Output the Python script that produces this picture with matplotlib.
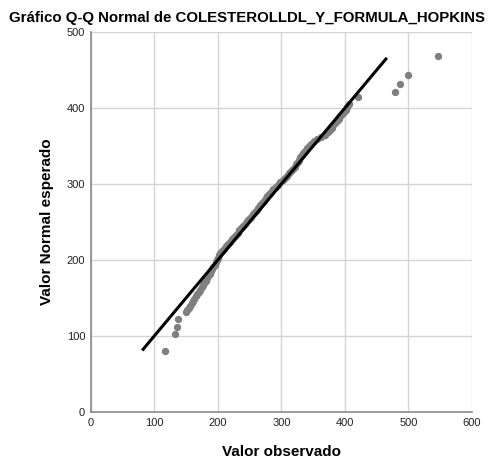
import matplotlib
matplotlib.use("Agg")
import matplotlib.pyplot as plt

plt.rcParams['font.family'] = ['Liberation Sans', 'DejaVu Sans']

# observed values (sorted) and their expected normal values
observado = [117, 133, 136, 138,
             150, 152, 155, 157, 159, 161, 163, 166, 168, 170, 172, 175, 177, 179,
             181, 183, 185, 187, 189, 191, 193, 195, 197, 199, 200, 202, 204, 207,
             210, 213, 216, 219, 222, 225, 228, 231, 234, 237, 240, 243, 246, 249,
             252, 255, 258, 261, 264, 267, 270, 273, 276, 278, 281, 284, 287, 291,
             294, 298, 302, 306, 309, 312, 315, 318, 321, 323, 326, 328, 330, 332,
             334, 337, 340, 343, 347, 351, 356, 362, 368, 373, 377, 380, 382, 384,
             387, 390, 393, 396, 399, 402, 404, 407,
             421, 479, 486, 500, 547]
esperado = [80, 103, 112, 123,
            131, 134, 137, 140, 143, 146, 149, 152, 155, 158, 161, 164, 167, 170,
            173, 176, 179, 182, 185, 188, 191, 194, 197, 200, 203, 206, 209, 212,
            215, 218, 221, 224, 227, 230, 233, 236, 239, 242, 245, 248, 251, 254,
            257, 260, 263, 266, 269, 272, 275, 278, 281, 284, 287, 290, 293, 296,
            299, 302, 305, 308, 311, 314, 317, 320, 323, 326, 329, 332, 335, 338,
            341, 344, 347, 350, 353, 356, 359, 362, 365, 368, 371, 374, 377, 380,
            383, 386, 389, 392, 395, 398, 401, 405,
            414, 421, 431, 444, 468]

# reference line y = x
linea = [81, 466]

xticks = [0, 100, 200, 300, 400, 500, 600]
yticks = [0, 100, 200, 300, 400, 500]

fig = plt.figure(figsize=(4.92, 4.59), dpi=100)
ax = fig.add_axes([90.7 / 492, 1 - 412 / 459, (472 - 90.7) / 492, (412 - 32) / 459])

ax.scatter(observado, esperado, s=28, color='#7f7f7f', linewidths=0, zorder=3)
ax.plot(linea, linea, color='black', lw=2.2, zorder=4, solid_capstyle='butt')

ax.set_xlim(0, 600)
ax.set_ylim(0, 500)
ax.set_xticks(xticks)
ax.set_yticks(yticks)
ax.grid(True, color='#d4d4d4', lw=1.0, zorder=0)
ax.set_axisbelow(True)
ax.tick_params(length=0, labelsize=8, labelcolor='#222222', pad=4)

for s in ['top', 'right']:
    ax.spines[s].set_visible(False)
for s in ['left', 'bottom']:
    ax.spines[s].set_color('#8a8a8a')
    ax.spines[s].set_linewidth(1.2)

fig.text(9 / 492, 1 - 18 / 459, 'Gráfico Q-Q Normal de COLESTEROLLDL_Y_FORMULA_HOPKINS',
         ha='left', va='center', fontsize=10.8, fontweight='bold')
fig.text(281 / 492, 1 - 452 / 459, 'Valor observado',
         ha='center', va='center', fontsize=11, fontweight='bold')
fig.text(47 / 492, 1 - 222 / 459, 'Valor Normal esperado', rotation=90,
         ha='center', va='center', fontsize=11, fontweight='bold')

fig.savefig('out.png', dpi=100)
